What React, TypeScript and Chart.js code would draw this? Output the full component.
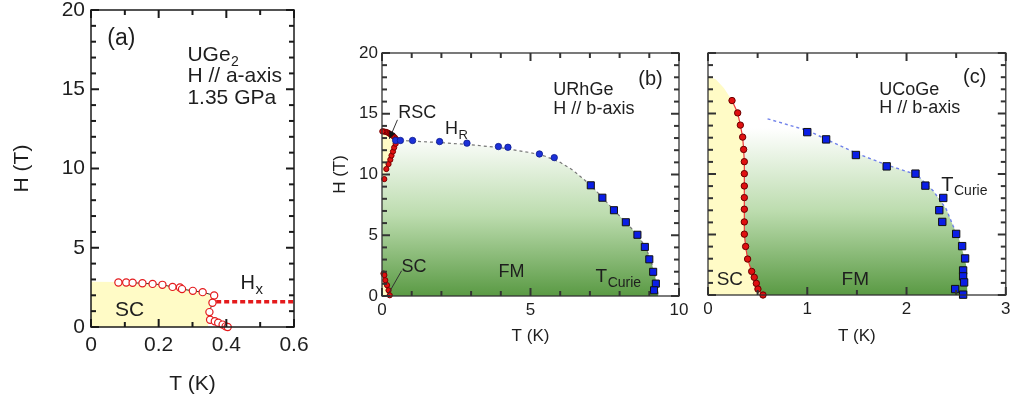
import React, { useEffect, useRef } from "react";
import { Chart, registerables } from "chart.js";

Chart.register(...registerables);

const FONT = "'Liberation Sans', Arial, Helvetica, sans-serif";
const INK = "#1e1e1e";

// ================= Panel (a): UGe2, H // a-axis, 1.35 GPa =================
const aXTicks = [0, 0.2, 0.4, 0.6];
const aXTickLabels = ["0", "0.2", "0.4", "0.6"];
const aYTicks = [0, 5, 10, 15, 20];
const aYTickLabels = ["0", "5", "10", "15", "20"];
const aXMinorStep = 0.1, aXMajorStep = 0.2, aYMinorStep = 1, aYMajorStep = 5;
const aScT = [0.081, 0.104, 0.123, 0.152, 0.182, 0.211, 0.241, 0.263, 0.269, 0.301, 0.33, 0.364, 0.359, 0.35, 0.352, 0.366, 0.376, 0.389, 0.398, 0.404];
const aScH = [2.81, 2.81, 2.79, 2.76, 2.72, 2.66, 2.53, 2.49, 2.39, 2.28, 2.2, 1.99, 1.53, 0.94, 0.46, 0.36, 0.27, 0.15, 0.04, 0.0];
const aScAreaT = [0, 0.081, 0.152, 0.211, 0.263, 0.301, 0.33, 0.364, 0.359, 0.35, 0.346, 0.346];
const aScAreaH = [2.87, 2.84, 2.79, 2.69, 2.52, 2.3, 2.22, 2.0, 1.53, 0.94, 0.46, 0];
const aHxT = [0.37, 0.6];
const aHxH = [1.6, 1.6];

// ================= Panel (b): URhGe, H // b-axis =================
const bXTicks = [0, 5, 10];
const bXTickLabels = ["0", "5", "10"];
const bYTicks = [0, 5, 10, 15, 20];
const bYTickLabels = ["0", "5", "10", "15", "20"];
const bXMinorStep = 1, bXMajorStep = 5, bYMinorStep = 1, bYMajorStep = 5;
const bHrT = [0.46, 0.62, 1.03, 1.94, 2.86, 3.92, 4.24, 5.3, 5.8];
const bHrH = [12.8, 12.8, 12.8, 12.71, 12.58, 12.3, 12.24, 11.69, 11.39];
const bTcT = [7.03, 7.42, 7.81, 8.21, 8.6, 8.85, 9.0, 9.13, 9.22, 9.16];
const bTcH = [9.11, 8.09, 7.06, 6.07, 5.04, 4.04, 3.02, 1.99, 1.02, 0.47];
const bRscT = [0.077, 0.145, 0.22, 0.28, 0.32, 0.37, 0.41, 0.46, 0.48, 0.46, 0.43, 0.39, 0.35, 0.3, 0.26, 0.22, 0.18, 0.145, 0.1, 0.05, 0.01];
const bRscH = [9.62, 10.45, 10.86, 11.22, 11.56, 11.89, 12.22, 12.53, 12.89, 12.94, 13.05, 13.14, 13.2, 13.28, 13.35, 13.42, 13.46, 13.5, 13.52, 13.55, 13.55];
const bScT = [0.05, 0.08, 0.11, 0.17, 0.22, 0.26];
const bScH = [1.85, 1.72, 1.3, 0.89, 0.47, 0.06];
const bRscAreaT = [0, 0.077, 0.22, 0.37, 0.48, 0.3, 0.145, 0];
const bRscAreaH = [9.3, 9.62, 10.86, 11.89, 12.89, 13.28, 13.5, 13.6];
const bScAreaT = [0, 0.08, 0.17, 0.26];
const bScAreaH = [1.85, 1.72, 0.89, 0];
const bFmT = [0, 0.5, 1, 2, 3, 4, 5, 5.5, 6, 6.4, 6.7, 7.03, 7.42, 7.81, 8.21, 8.6, 8.87, 9.04, 9.16, 9.25, 9.3];
const bFmH = [12.85, 12.82, 12.75, 12.62, 12.45, 12.2, 11.8, 11.5, 11.0, 10.4, 9.8, 9.11, 8.1, 7.06, 6.07, 5.04, 4.04, 3.02, 2.0, 1.0, 0];

// ================= Panel (c): UCoGe, H // b-axis =================
const cXTicks = [0, 1, 2, 3];
const cXTickLabels = ["0", "1", "2", "3"];
const cYTicks = [0, 5, 10, 15, 20];
const cYTickLabels = ["", "", "", "", ""];
const cXMinorStep = 0.5, cXMajorStep = 1, cYMinorStep = 1, cYMajorStep = 5;
const cScT = [0.242, 0.299, 0.326, 0.349, 0.359, 0.366, 0.366, 0.366, 0.366, 0.366, 0.366, 0.366, 0.379, 0.399, 0.44, 0.466, 0.487, 0.503, 0.554];
const cScH = [16.07, 15.05, 14.04, 13.05, 12.03, 11.02, 10.03, 9.01, 8.05, 7.09, 6.04, 5.03, 4.01, 2.97, 1.95, 1.46, 0.96, 0.49, 0];
const cTcT = [1.0, 1.19, 1.49, 1.8, 2.09, 2.19, 2.37, 2.33, 2.36, 2.5, 2.56, 2.59, 2.57, 2.57, 2.58, 2.49, 2.57];
const cTcH = [13.46, 12.86, 11.57, 10.63, 10.03, 9.04, 8.02, 7.01, 6.04, 5.05, 4.04, 3.02, 2.03, 1.54, 1.04, 0.49, 0.03];
const cTcLineT = [0.6, 1.0, 1.5, 1.8, 2.1, 2.27, 2.4, 2.47, 2.53];
const cTcLineH = [14.56, 13.6, 11.7, 10.75, 9.95, 8.6, 7.1, 5.7, 4.6];
const cScAreaT = [0, 0.08, 0.16, 0.242, 0.299, 0.349, 0.366, 0.366, 0.379, 0.399, 0.44, 0.487, 0.554];
const cScAreaH = [18.1, 17.8, 17.1, 16.07, 15.05, 13.05, 11.0, 5.03, 4.01, 2.97, 1.95, 0.96, 0];
const cFmT = [0, 0.3, 0.6, 1.0, 1.5, 1.8, 2.1, 2.27, 2.4, 2.47, 2.53, 2.57, 2.6, 2.61, 2.615];
const cFmH = [15.7, 15.2, 14.56, 13.6, 11.7, 10.75, 9.95, 8.6, 7.1, 5.7, 4.6, 3.5, 2.5, 1.0, 0];

// ================= annotations (data coordinates) =================
type Note = { text: string; sub?: string; x: number; y: number; size: number; subSize?: number };
type Lead = { x1: number; y1: number; x2: number; y2: number; arrow: boolean };

const aNotes: Note[] = [
  { text: "(a)", x: 0.048, y: 18.2, size: 23 },
  { text: "UGe", sub: "2", x: 0.285, y: 17.16, size: 21, subSize: 14 },
  { text: "H // a-axis", x: 0.285, y: 15.85, size: 21 },
  { text: "1.35 GPa", x: 0.285, y: 14.45, size: 21 },
  { text: "SC", x: 0.071, y: 1.03, size: 21 },
  { text: "H", sub: "x", x: 0.442, y: 2.76, size: 20, subSize: 15 },
];
const bNotes: Note[] = [
  { text: "(b)", x: 8.63, y: 17.84, size: 20 },
  { text: "URhGe", x: 5.77, y: 16.95, size: 18 },
  { text: "H // b-axis", x: 5.77, y: 15.4, size: 18 },
  { text: "RSC", x: 0.55, y: 15.09, size: 18 },
  { text: "H", sub: "R", x: 2.12, y: 13.74, size: 18, subSize: 13 },
  { text: "SC", x: 0.66, y: 2.41, size: 18 },
  { text: "FM", x: 3.92, y: 2.0, size: 18 },
  { text: "T", sub: "Curie", x: 7.19, y: 1.59, size: 19, subSize: 14 },
];
const bLeads: Lead[] = [
  { x1: 0.52, y1: 14.5, x2: 0.25, y2: 12.95, arrow: true },
  { x1: 0.66, y1: 2.08, x2: 0.21, y2: 0.16, arrow: false },
];
const cNotes: Note[] = [
  { text: "(c)", x: 2.57, y: 17.99, size: 20 },
  { text: "UCoGe", x: 1.725, y: 16.94, size: 18 },
  { text: "H // b-axis", x: 1.725, y: 15.43, size: 18 },
  { text: "T", sub: "Curie", x: 2.35, y: 9.09, size: 20, subSize: 14 },
  { text: "SC", x: 0.087, y: 1.24, size: 19 },
  { text: "FM", x: 1.346, y: 1.24, size: 19 },
];

const pts = (xs: number[], ys: number[]) => xs.map((x, i) => ({ x, y: ys[i] }));

function fmGradient(topH: number) {
  return (c: any) => {
    const chart = c.chart;
    const ys = chart.scales && chart.scales.y;
    if (!chart.chartArea || !ys) return "rgba(0,0,0,0)";
    const g = chart.ctx.createLinearGradient(0, ys.getPixelForValue(topH), 0, ys.getPixelForValue(0));
    g.addColorStop(0, "#ffffff");
    g.addColorStop(0.5, "#bcdcae");
    g.addColorStop(1, "#5a9a44");
    return g;
  };
}

type FrameSpec = {
  xMinor: number; xMajor: number; yMinor: number; yMajor: number;
  majorLen: number; minorLen: number; color: string; width: number;
};

function drawFrame(chart: any, o: FrameSpec) {
  const ctx: CanvasRenderingContext2D = chart.ctx;
  const xs = chart.scales.x;
  const ys = chart.scales.y;
  const left = xs.getPixelForValue(xs.min);
  const right = xs.getPixelForValue(xs.max);
  const bottom = ys.getPixelForValue(ys.min);
  const top = ys.getPixelForValue(ys.max);
  const isMajor = (v: number, m: number) => Math.abs(v / m - Math.round(v / m)) < 1e-6;
  ctx.save();
  ctx.setLineDash([]);
  ctx.strokeStyle = o.color;
  ctx.lineWidth = 2;
  const nx = Math.round((xs.max - xs.min) / o.xMinor);
  for (let i = 0; i <= nx; i++) {
    const v = xs.min + i * o.xMinor;
    const p = xs.getPixelForValue(v);
    const L = isMajor(v, o.xMajor) ? o.majorLen : o.minorLen;
    ctx.beginPath();
    ctx.moveTo(p, bottom);
    ctx.lineTo(p, bottom - L);
    ctx.stroke();
    ctx.beginPath();
    ctx.moveTo(p, top);
    ctx.lineTo(p, top + L);
    ctx.stroke();
  }
  const ny = Math.round((ys.max - ys.min) / o.yMinor);
  for (let i = 0; i <= ny; i++) {
    const v = ys.min + i * o.yMinor;
    const p = ys.getPixelForValue(v);
    const L = isMajor(v, o.yMajor) ? o.majorLen : o.minorLen;
    ctx.beginPath();
    ctx.moveTo(left, p);
    ctx.lineTo(left + L, p);
    ctx.stroke();
    ctx.beginPath();
    ctx.moveTo(right, p);
    ctx.lineTo(right - L, p);
    ctx.stroke();
  }
  ctx.lineWidth = o.width;
  ctx.strokeRect(left, top, right - left, bottom - top);
  ctx.restore();
}

function makeDecor(spec: FrameSpec, notes: Note[], leads: Lead[]) {
  return {
    id: "decor",
    afterDatasetsDraw(chart: any) {
      drawFrame(chart, spec);
    },
    afterDraw(chart: any) {
      const { ctx } = chart;
      const xs = chart.scales.x;
      const ys = chart.scales.y;
      ctx.save();
      ctx.fillStyle = INK;
      ctx.strokeStyle = "#333";
      ctx.lineWidth = 1;
      ctx.setLineDash([]);
      for (const l of leads) {
        const x1 = xs.getPixelForValue(l.x1), y1 = ys.getPixelForValue(l.y1);
        const x2 = xs.getPixelForValue(l.x2), y2 = ys.getPixelForValue(l.y2);
        ctx.beginPath();
        ctx.moveTo(x1, y1);
        ctx.lineTo(x2, y2);
        ctx.stroke();
        if (l.arrow) {
          const ang = Math.atan2(y2 - y1, x2 - x1);
          const len = 8, w = 0.42;
          ctx.beginPath();
          ctx.moveTo(x2, y2);
          ctx.lineTo(x2 - len * Math.cos(ang - w), y2 - len * Math.sin(ang - w));
          ctx.lineTo(x2 - len * Math.cos(ang + w), y2 - len * Math.sin(ang + w));
          ctx.closePath();
          ctx.fillStyle = "#111";
          ctx.fill();
          ctx.fillStyle = INK;
        }
      }
      ctx.textBaseline = "middle";
      ctx.textAlign = "left";
      for (const n of notes) {
        const px = xs.getPixelForValue(n.x);
        const py = ys.getPixelForValue(n.y);
        ctx.font = `${n.size}px ${FONT}`;
        ctx.fillText(n.text, px, py);
        if (n.sub) {
          const w = ctx.measureText(n.text).width;
          ctx.font = `${n.subSize}px ${FONT}`;
          ctx.fillText(n.sub, px + w + 0.5, py + n.size * 0.33);
        }
      }
      ctx.restore();
    },
  };
}

function axis(o: {
  min: number; max: number; ticks: number[]; labels: string[]; font: number; tickPad: number;
  size: number; title?: string; titlePad?: any; showLabels?: boolean;
}) {
  return {
    type: "linear",
    min: o.min,
    max: o.max,
    afterBuildTicks: (s: any) => {
      s.ticks = o.ticks.map((v) => ({ value: v }));
    },
    afterFit: (s: any) => {
      if (s.isHorizontal()) s.height = o.size;
      else s.width = o.size;
      s.paddingTop = 0;
      s.paddingBottom = 0;
      s.paddingLeft = 0;
      s.paddingRight = 0;
    },
    grid: { display: false, drawTicks: false, tickLength: 0 },
    border: { display: false },
    ticks: {
      display: o.showLabels !== false,
      padding: o.tickPad,
      color: INK,
      autoSkip: false,
      maxRotation: 0,
      font: { family: FONT, size: o.font },
      callback: (_v: any, i: number) => o.labels[i],
    },
    title: {
      display: !!o.title,
      text: o.title || "",
      color: INK,
      font: { family: FONT, size: o.font },
      padding: o.titlePad || 0,
    },
  };
}

function base(padding: any, x: any, y: any) {
  return {
    responsive: false,
    animation: false,
    events: [],
    layout: { padding },
    plugins: {
      legend: { display: false },
      tooltip: { enabled: false },
    },
    scales: { x, y },
  };
}

const RED = "#e41a1c";

function configA(): any {
  return {
    type: "scatter",
    data: {
      datasets: [
        {
          data: pts(aScT, aScH), showLine: true, borderColor: "#333", borderWidth: 1,
          pointRadius: 3.6, pointBackgroundColor: "#ffffff", pointBorderColor: RED, pointBorderWidth: 1.2,
          clip: false, order: 1,
        },
        {
          data: pts(aHxT, aHxH), showLine: true, borderColor: RED, borderWidth: 3.5, borderDash: [5, 3],
          pointRadius: 0, order: 2,
        },
        {
          data: pts(aScAreaT, aScAreaH), showLine: true, indexAxis: "y", borderWidth: 0,
          borderColor: "rgba(0,0,0,0)", pointRadius: 0, fill: "origin", backgroundColor: "#fffbc6", order: 15,
        },
      ],
    },
    options: base(
      { left: 0, top: 10, right: 26, bottom: 0 },
      axis({ min: 0, max: 0.6, ticks: aXTicks, labels: aXTickLabels, font: 21, tickPad: 6, size: 75, title: "T (K)", titlePad: { top: 0, bottom: 5 } }),
      axis({ min: 0, max: 20, ticks: aYTicks, labels: aYTickLabels, font: 21, tickPad: 6, size: 91, title: "H (T)", titlePad: { top: 10, bottom: 0 } })
    ),
    plugins: [
      makeDecor({ xMinor: aXMinorStep, xMajor: aXMajorStep, yMinor: aYMinorStep, yMajor: aYMajorStep, majorLen: 8, minorLen: 5, color: "#1a1a1a", width: 1.5 }, aNotes, []),
    ],
  };
}

function configB(): any {
  return {
    type: "scatter",
    data: {
      datasets: [
        {
          data: pts(bTcT, bTcH), pointStyle: "rect", pointRadius: 5, pointBackgroundColor: "#0a1ee6",
          pointBorderColor: "#111", pointBorderWidth: 1, clip: false, order: 1,
        },
        {
          data: pts(bHrT, bHrH), pointRadius: 3.2, pointBackgroundColor: "#1c30d8",
          pointBorderColor: "#0b1a8a", pointBorderWidth: 0.8, clip: false, order: 2,
        },
        {
          data: pts(bRscT, bRscH), pointRadius: 2.6, pointBackgroundColor: "#e01010",
          pointBorderColor: "#7a0000", pointBorderWidth: 1, clip: false, order: 3,
        },
        {
          data: pts(bScT, bScH), pointRadius: 2.6, pointBackgroundColor: "#e01010",
          pointBorderColor: "#7a0000", pointBorderWidth: 1, clip: false, order: 3,
        },
        {
          data: pts(bRscAreaT, bRscAreaH), showLine: true, indexAxis: "y", borderWidth: 0,
          borderColor: "rgba(0,0,0,0)", pointRadius: 0, fill: "origin", backgroundColor: "#fffbc6", order: 15,
        },
        {
          data: pts(bScAreaT, bScAreaH), showLine: true, indexAxis: "y", borderWidth: 0,
          borderColor: "rgba(0,0,0,0)", pointRadius: 0, fill: "origin", backgroundColor: "#fffbc6", order: 15,
        },
        {
          data: pts(bFmT, bFmH), showLine: true, borderColor: "#777", borderWidth: 1.2, borderDash: [3, 3],
          pointRadius: 0, fill: "origin", backgroundColor: fmGradient(13.3), order: 20,
        },
      ],
    },
    options: base(
      { left: 0, top: 53, right: 13, bottom: 0 },
      axis({ min: 0, max: 10, ticks: bXTicks, labels: bXTickLabels, font: 17, tickPad: 4, size: 106, title: "T (K)", titlePad: { top: 0, bottom: 55 } }),
      axis({ min: 0, max: 20, ticks: bYTicks, labels: bYTickLabels, font: 17, tickPad: 4, size: 62, title: "H (T)", titlePad: { top: 10, bottom: 0 } })
    ),
    plugins: [
      makeDecor({ xMinor: bXMinorStep, xMajor: bXMajorStep, yMinor: bYMinorStep, yMajor: bYMajorStep, majorLen: 8, minorLen: 5, color: "#333", width: 1.3 }, bNotes, bLeads),
    ],
  };
}

function configC(): any {
  return {
    type: "scatter",
    data: {
      datasets: [
        {
          data: pts(cTcT, cTcH), pointStyle: "rect", pointRadius: 5.2, pointBackgroundColor: "#0a1ee6",
          pointBorderColor: "#111", pointBorderWidth: 1, clip: false, order: 1,
        },
        {
          data: pts(cScT, cScH), showLine: true, borderColor: "#f03a3a", borderWidth: 1.2,
          pointRadius: 3.2, pointBackgroundColor: "#e01010", pointBorderColor: "#6a0000", pointBorderWidth: 1,
          clip: false, order: 2,
        },
        {
          data: pts(cTcLineT, cTcLineH), showLine: true, borderColor: "#6f80ea", borderWidth: 1.4,
          borderDash: [3, 3], pointRadius: 0, order: 12,
        },
        {
          data: pts(cScAreaT, cScAreaH), showLine: true, indexAxis: "y", borderWidth: 0,
          borderColor: "rgba(0,0,0,0)", pointRadius: 0, fill: "origin", backgroundColor: "#fffbc6", order: 15,
        },
        {
          data: pts(cFmT, cFmH), showLine: true, borderWidth: 0, borderColor: "rgba(0,0,0,0)",
          pointRadius: 0, fill: "origin", backgroundColor: fmGradient(13.8), order: 20,
        },
      ],
    },
    options: base(
      { left: 0, top: 53, right: 6, bottom: 0 },
      axis({ min: 0, max: 3, ticks: cXTicks, labels: cXTickLabels, font: 17, tickPad: 4, size: 107, title: "T (K)", titlePad: { top: 0, bottom: 55 } }),
      axis({ min: 0, max: 20, ticks: cYTicks, labels: cYTickLabels, font: 17, tickPad: 4, size: 16, showLabels: false })
    ),
    plugins: [
      makeDecor({ xMinor: cXMinorStep, xMajor: cXMajorStep, yMinor: cYMinorStep, yMajor: cYMajorStep, majorLen: 8, minorLen: 5, color: "#333", width: 1.3 }, cNotes, []),
    ],
  };
}

export default function App() {
  const ra = useRef<HTMLCanvasElement>(null);
  const rb = useRef<HTMLCanvasElement>(null);
  const rc = useRef<HTMLCanvasElement>(null);
  useEffect(() => {
    Chart.defaults.font.family = FONT;
    const charts = [
      new Chart(ra.current as HTMLCanvasElement, configA()),
      new Chart(rb.current as HTMLCanvasElement, configB()),
      new Chart(rc.current as HTMLCanvasElement, configC()),
    ];
    return () => charts.forEach((c) => c.destroy());
  }, []);
  return (
    <div style={{ position: "absolute", left: 0, top: 0, width: 1012, height: 402, background: "#ffffff", overflow: "hidden" }}>
      <canvas ref={ra} width={320} height={402} style={{ position: "absolute", left: 0, top: 0 }} />
      <canvas ref={rb} width={372} height={402} style={{ position: "absolute", left: 320, top: 0 }} />
      <canvas ref={rc} width={320} height={402} style={{ position: "absolute", left: 692, top: 0 }} />
    </div>
  );
}
